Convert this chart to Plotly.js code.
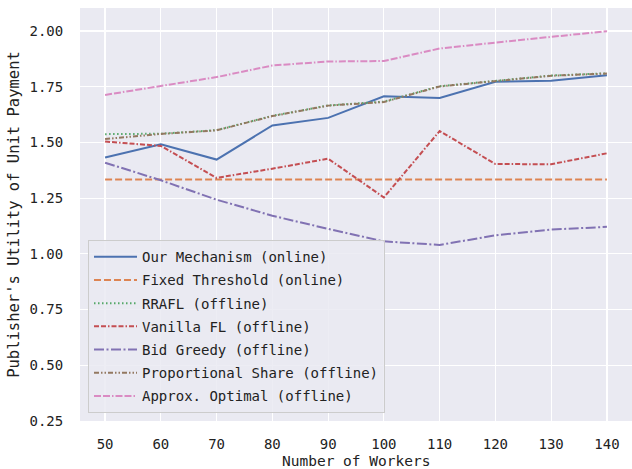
<!DOCTYPE html>
<html>
<head>
<meta charset="utf-8">
<script src="https://cdn.plot.ly/plotly-3.0.1.min.js"></script>
<style>html,body{margin:0;padding:0;background:#fff;}#chart{width:632px;height:469px;}</style>
</head>
<body>
<div id="chart"></div>
<script>
const workers = [50, 60, 70, 80, 90, 100, 110, 120, 130, 140];
const ourMechanism = [1.432, 1.491, 1.423, 1.576, 1.610, 1.707, 1.699, 1.772, 1.777, 1.801];
const fixedThreshold = [1.333, 1.333, 1.333, 1.333, 1.333, 1.333, 1.333, 1.333, 1.333, 1.333];
const rrafl = [1.537, 1.539, 1.555, 1.619, 1.666, 1.683, 1.752, 1.777, 1.800, 1.810];
const vanillaFL = [1.504, 1.484, 1.341, 1.382, 1.427, 1.253, 1.551, 1.403, 1.402, 1.451];
const bidGreedy = [1.409, 1.330, 1.243, 1.171, 1.112, 1.056, 1.040, 1.083, 1.109, 1.121];
const proportionalShare = [1.515, 1.538, 1.554, 1.618, 1.665, 1.681, 1.751, 1.776, 1.799, 1.809];
const approxOptimal = [1.713, 1.754, 1.793, 1.845, 1.863, 1.865, 1.921, 1.948, 1.973, 1.999];

const seriesNames = ["Our Mechanism (online)", "Fixed Threshold (online)", "RRAFL (offline)", "Vanilla FL (offline)", "Bid Greedy (offline)", "Proportional Share (offline)", "Approx. Optimal (offline)"];
const seriesData = [ourMechanism, fixedThreshold, rrafl, vanillaFL, bidGreedy, proportionalShare, approxOptimal];
const colors = ["#4C72B0", "#DD8452", "#55A868", "#C44E52", "#8172B3", "#937860", "#DA8BC3"];
const dashes = ["solid", "7px,3px", "1.5px,2.5px", "5px,2px,5px,2px,1.5px,2px", "10px,2.5px,2px,2.5px", "5px,2px,1.5px,2px,1.5px,2px", "7px,2px,7px,2px,1.5px,2px"];
const xTitle = "Number of Workers";
const yTitle = "Publisher's Utility of Unit Payment";

const FONT = "DejaVu Sans Mono, monospace";
const traces = seriesData.map((ys, i) => ({
  x: workers, y: ys, type: "scatter", mode: "lines", name: seriesNames[i],
  legendgroup: "g" + i,
  line: {color: colors[i], width: 2, dash: dashes[i]}
}));

const layout = {
  width: 632, height: 469,
  margin: {l: 80, r: 0, t: 8, b: 48},
  paper_bgcolor: "#ffffff",
  plot_bgcolor: "#EAEAF2",
  showlegend: true,
  legend: {
    x: 0.0145, y: 0.019, xanchor: "left", yanchor: "bottom",
    bgcolor: "rgba(234,234,242,0.85)", bordercolor: "#cccccc", borderwidth: 1,
    font: {family: FONT, size: 14, color: "#222"},
    tracegroupgap: 2, itemwidth: 43
  },
  xaxis: {
    range: [45.5, 144.5], tickvals: workers, ticktext: workers.map(String),
    showgrid: true, gridcolor: "#ffffff", gridwidth: 1.2, zeroline: false,
    showline: false, ticks: "outside", ticklen: 10, tickcolor: "rgba(0,0,0,0)",
    tickfont: {family: FONT, size: 14, color: "#222"}
  },
  yaxis: {
    range: [0.25, 2.103], tickvals: [0.25, 0.5, 0.75, 1.0, 1.25, 1.5, 1.75, 2.0],
    ticktext: ["0.25", "0.50", "0.75", "1.00", "1.25", "1.50", "1.75", "2.00"],
    showgrid: true, gridcolor: "#ffffff", gridwidth: 1.2, zeroline: false,
    showline: false, ticks: "outside", ticklen: 13, tickcolor: "rgba(0,0,0,0)",
    tickfont: {family: FONT, size: 14, color: "#222"},
    title: {text: yTitle, font: {family: FONT, size: 15.5, color: "#222"}, standoff: 6}
  },
  annotations: [{
    text: xTitle, xref: "paper", yref: "paper", x: 0.5, y: -0.096,
    xanchor: "center", yanchor: "middle", showarrow: false,
    font: {family: FONT, size: 14.5, color: "#222"}
  }]
};

Plotly.newPlot("chart", traces, layout, {displayModeBar: false, staticPlot: true});
</script>
</body>
</html>
